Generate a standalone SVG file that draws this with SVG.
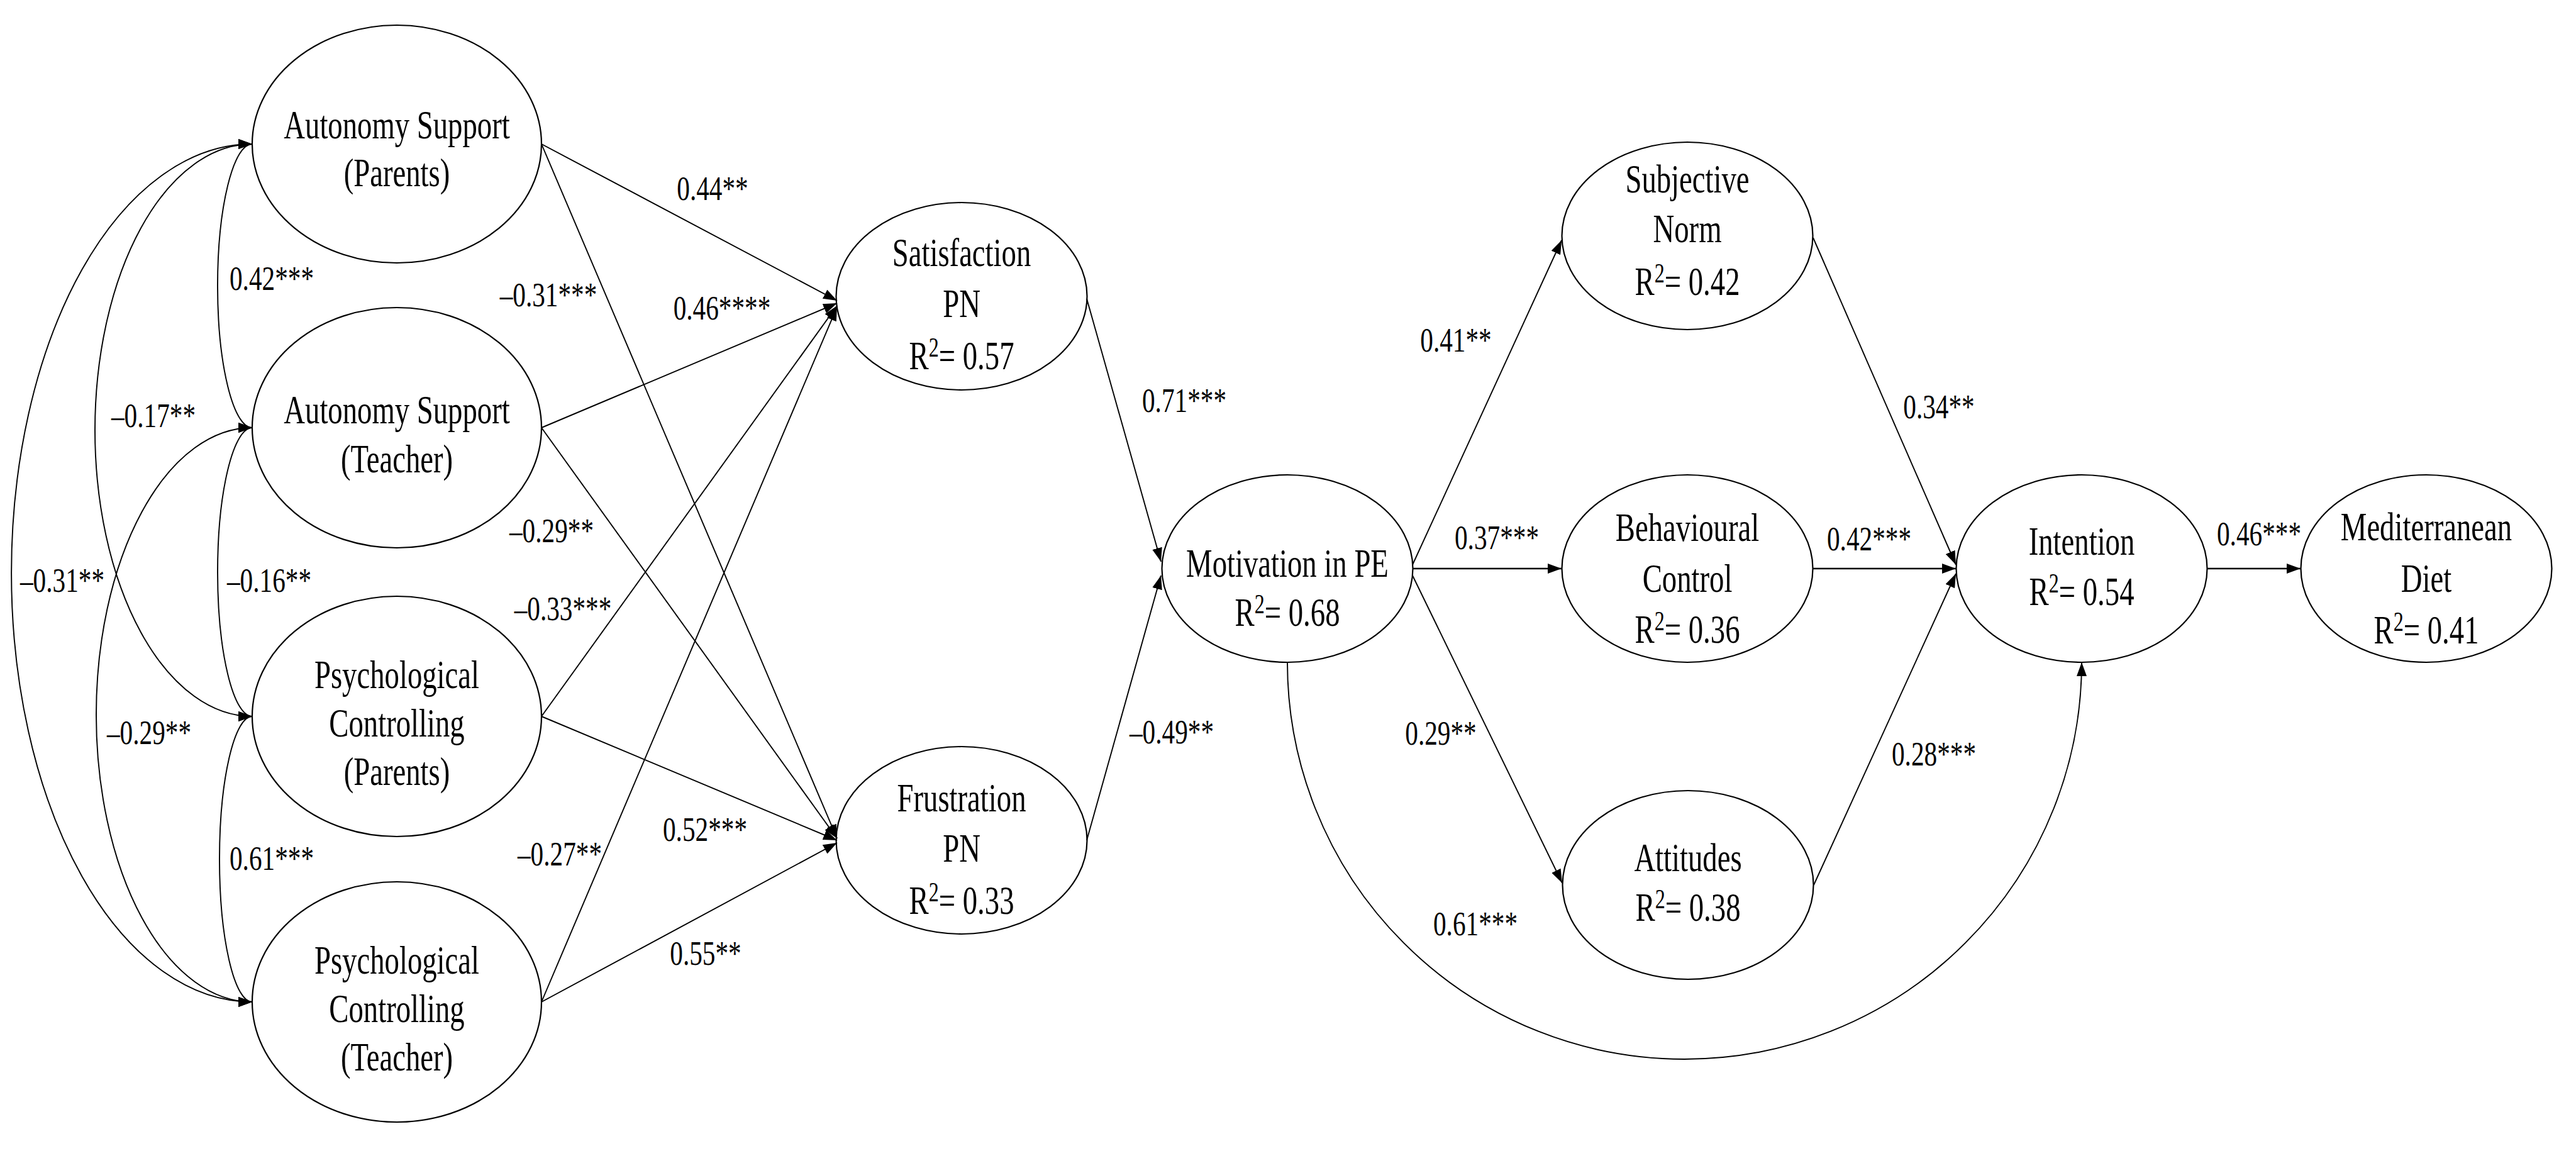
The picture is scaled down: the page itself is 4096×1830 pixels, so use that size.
<svg xmlns="http://www.w3.org/2000/svg" width="4096" height="1830" viewBox="0 0 4096 1830">
<defs>
<marker id="ah" viewBox="0 0 22 16" refX="22" refY="8" markerWidth="22" markerHeight="16" markerUnits="userSpaceOnUse" orient="auto-start-reverse"><path d="M0,0 L22,8 L0,16 z" fill="#000"/></marker>
</defs>
<style>
.n ellipse{fill:#fff;stroke:#000;stroke-width:2.2}
text{font-family:"Liberation Serif","Times New Roman",serif;fill:#000}
.t{font-size:64px;text-anchor:middle}
.l{font-size:55px;text-anchor:middle}
.e{fill:none;stroke:#000;stroke-width:1.9;marker-end:url(#ah)}
.h{stroke-width:2.5}
.c{fill:none;stroke:#000;stroke-width:1.9;marker-start:url(#ah);marker-end:url(#ah)}
.s{font-size:44px}
</style>
<rect width="4096" height="1830" fill="#fff"/>
<g id="nodes">
<g id="as-parents" class="n"><ellipse cx="631" cy="229" rx="230" ry="189"/>
<text class="t" transform="translate(631,220) scale(.73,1)">Autonomy Support</text>
<text class="t" transform="translate(631,296) scale(.73,1)">(Parents)</text></g>
<g id="as-teacher" class="n"><ellipse cx="631" cy="680" rx="230" ry="191"/>
<text class="t" transform="translate(631,673) scale(.73,1)">Autonomy Support</text>
<text class="t" transform="translate(631,751) scale(.73,1)">(Teacher)</text></g>
<g id="pc-parents" class="n"><ellipse cx="631" cy="1139" rx="230" ry="191"/>
<text class="t" transform="translate(631,1094) scale(.73,1)">Psychological</text>
<text class="t" transform="translate(631,1171) scale(.73,1)">Controlling</text>
<text class="t" transform="translate(631,1248) scale(.73,1)">(Parents)</text></g>
<g id="pc-teacher" class="n"><ellipse cx="631" cy="1593" rx="230" ry="191"/>
<text class="t" transform="translate(631,1548) scale(.73,1)">Psychological</text>
<text class="t" transform="translate(631,1625) scale(.73,1)">Controlling</text>
<text class="t" transform="translate(631,1702) scale(.73,1)">(Teacher)</text></g>
<g id="satisfaction" class="n"><ellipse cx="1529" cy="471" rx="199.5" ry="149"/>
<text class="t" transform="translate(1529,423) scale(.73,1)">Satisfaction</text>
<text class="t" transform="translate(1529,504) scale(.73,1)">PN</text>
<text class="t" transform="translate(1529,587) scale(.73,1)">R<tspan class="s" dy="-20">2</tspan><tspan dy="20">= 0.57</tspan></text></g>
<g id="frustration" class="n"><ellipse cx="1529" cy="1336" rx="199.5" ry="149"/>
<text class="t" transform="translate(1529,1290) scale(.73,1)">Frustration</text>
<text class="t" transform="translate(1529,1370) scale(.73,1)">PN</text>
<text class="t" transform="translate(1529,1453) scale(.73,1)">R<tspan class="s" dy="-20">2</tspan><tspan dy="20">= 0.33</tspan></text></g>
<g id="motivation" class="n"><ellipse cx="2047" cy="904" rx="199.5" ry="149"/>
<text class="t" transform="translate(2047,917) scale(.73,1)">Motivation in PE</text>
<text class="t" transform="translate(2047,995) scale(.73,1)">R<tspan class="s" dy="-20">2</tspan><tspan dy="20">= 0.68</tspan></text></g>
<g id="subjective-norm" class="n"><ellipse cx="2683" cy="375" rx="199.5" ry="149"/>
<text class="t" transform="translate(2683,306) scale(.73,1)">Subjective</text>
<text class="t" transform="translate(2683,385) scale(.73,1)">Norm</text>
<text class="t" transform="translate(2683,469) scale(.73,1)">R<tspan class="s" dy="-20">2</tspan><tspan dy="20">= 0.42</tspan></text></g>
<g id="behavioural-control" class="n"><ellipse cx="2683" cy="904" rx="199.5" ry="149"/>
<text class="t" transform="translate(2683,860) scale(.73,1)">Behavioural</text>
<text class="t" transform="translate(2683,941) scale(.73,1)">Control</text>
<text class="t" transform="translate(2683,1022) scale(.73,1)">R<tspan class="s" dy="-20">2</tspan><tspan dy="20">= 0.36</tspan></text></g>
<g id="attitudes" class="n"><ellipse cx="2684" cy="1407" rx="199.5" ry="150"/>
<text class="t" transform="translate(2684,1385) scale(.73,1)">Attitudes</text>
<text class="t" transform="translate(2684,1464) scale(.73,1)">R<tspan class="s" dy="-20">2</tspan><tspan dy="20">= 0.38</tspan></text></g>
<g id="intention" class="n"><ellipse cx="3310" cy="904" rx="199.5" ry="149"/>
<text class="t" transform="translate(3310,882) scale(.73,1)">Intention</text>
<text class="t" transform="translate(3310,962) scale(.73,1)">R<tspan class="s" dy="-20">2</tspan><tspan dy="20">= 0.54</tspan></text></g>
<g id="mediterranean-diet" class="n"><ellipse cx="3858" cy="904" rx="199.5" ry="149"/>
<text class="t" transform="translate(3858,859) scale(.73,1)">Mediterranean</text>
<text class="t" transform="translate(3858,941) scale(.73,1)">Diet</text>
<text class="t" transform="translate(3858,1023) scale(.73,1)">R<tspan class="s" dy="-20">2</tspan><tspan dy="20">= 0.41</tspan></text></g>
</g>
<g id="connectors">
<path class="c" d="M401,229 A55,225.5 0 0 0 401,680"/>
<path class="c" d="M401,680 A55,229.5 0 0 0 401,1139"/>
<path class="c" d="M401,1139 A52,227 0 0 0 401,1593"/>
<path class="c" d="M401,229 A250,455 0 0 0 401,1139"/>
<path class="c" d="M401,680 A248,456.5 0 0 0 401,1593"/>
<path class="c" d="M401,229 A383,682 0 0 0 401,1593"/>
<path class="e" d="M861,229 L1331,478"/>
<path class="e" d="M861,229 L1331,1333"/>
<path class="e" d="M861,680 L1331,482"/>
<path class="e" d="M861,680 L1331,1333"/>
<path class="e" d="M861,1139 L1331,486"/>
<path class="e" d="M861,1139 L1331,1336"/>
<path class="e" d="M861,1593 L1331,488"/>
<path class="e" d="M861,1593 L1331,1340"/>
<path class="e" d="M1728,475 L1846,893"/>
<path class="e" d="M1728,1336 L1846,915"/>
<path class="e" d="M2246,898 L2483,382"/>
<path class="e h" d="M2247,904 L2483,904"/>
<path class="e" d="M2246,915 L2484,1404"/>
<path class="e" d="M2883,378 L3110,898"/>
<path class="e h" d="M2883,904 L3110,904"/>
<path class="e" d="M2884,1407 L3110,912"/>
<path class="e h" d="M3510,904 L3658,904"/>
<path class="e" d="M2047,1053 A631.5,631 0 0 0 3310,1053"/>
</g>
<g id="labels">
<text class="l" transform="translate(432,461) scale(.75,1)">0.42***</text>
<text class="l" transform="translate(244,679) scale(.75,1)">–0.17**</text>
<text class="l" transform="translate(99,941) scale(.75,1)">–0.31**</text>
<text class="l" transform="translate(428,941) scale(.75,1)">–0.16**</text>
<text class="l" transform="translate(237,1183) scale(.75,1)">–0.29**</text>
<text class="l" transform="translate(432,1383) scale(.75,1)">0.61***</text>
<text class="l" transform="translate(1133,318) scale(.75,1)">0.44**</text>
<text class="l" transform="translate(1148,508) scale(.75,1)">0.46****</text>
<text class="l" transform="translate(872,487) scale(.75,1)">–0.31***</text>
<text class="l" transform="translate(877,862) scale(.75,1)">–0.29**</text>
<text class="l" transform="translate(895,986) scale(.75,1)">–0.33***</text>
<text class="l" transform="translate(1121,1337) scale(.75,1)">0.52***</text>
<text class="l" transform="translate(890,1376) scale(.75,1)">–0.27**</text>
<text class="l" transform="translate(1122,1534) scale(.75,1)">0.55**</text>
<text class="l" transform="translate(1883,655) scale(.75,1)">0.71***</text>
<text class="l" transform="translate(1863,1182) scale(.75,1)">–0.49**</text>
<text class="l" transform="translate(2315,559) scale(.75,1)">0.41**</text>
<text class="l" transform="translate(2380,873) scale(.75,1)">0.37***</text>
<text class="l" transform="translate(2291,1184) scale(.75,1)">0.29**</text>
<text class="l" transform="translate(2346,1487) scale(.75,1)">0.61***</text>
<text class="l" transform="translate(3075,1217) scale(.75,1)">0.28***</text>
<text class="l" transform="translate(3083,665) scale(.75,1)">0.34**</text>
<text class="l" transform="translate(2972,875) scale(.75,1)">0.42***</text>
<text class="l" transform="translate(3592,867) scale(.75,1)">0.46***</text>
</g>
</svg>
